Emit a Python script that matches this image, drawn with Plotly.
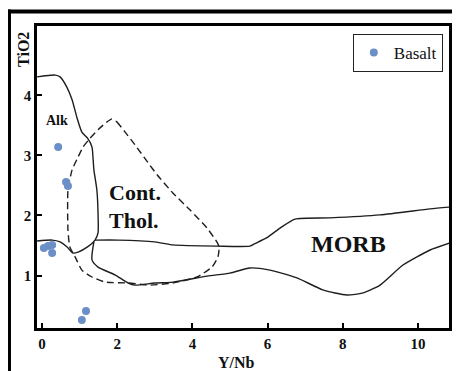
import plotly.graph_objects as go

# ---- data (Y/Nb, TiO2) ----
basalt_x = [0.43, 0.64, 0.69, 0.05, 0.16, 0.27, 0.27, 1.17, 1.06]
basalt_y = [3.14, 2.56, 2.49, 1.46, 1.49, 1.51, 1.375, 0.41, 0.26]

# Alk field boundary (upper + lower, continuous)
alk_x = [-0.13, 0.35, 0.48, 0.66, 0.80, 0.93, 1.06, 1.22, 1.33, 1.36, 1.38, 1.46, 1.49, 1.49, 1.41,
         1.22, 0.96, 0.82, 0.66, 0.48, 0.27, -0.13]
alk_y = [4.31, 4.34, 4.31, 4.14, 3.93, 3.63, 3.39, 3.28, 3.14, 2.93, 2.76, 2.42, 2.04, 1.71, 1.59,
         1.48, 1.39, 1.375, 1.48, 1.56, 1.59, 1.575]

# upper MORB / Cont. Thol. boundary
upper_x = [1.41, 2.02, 3.00, 3.48, 4.65, 5.53, 5.66, 5.98, 6.33, 6.73, 7.66, 8.99, 10.32, 10.83]
upper_y = [1.59, 1.59, 1.56, 1.51, 1.49, 1.49, 1.53, 1.63, 1.79, 1.94, 1.96, 2.01, 2.11, 2.14]

# lower MORB boundary
lower_x = [1.38, 1.33, 1.49, 1.94, 2.29, 2.47, 3.00, 3.48, 4.39, 5.00, 5.53, 6.06, 6.78, 7.47,
           8.11, 8.54, 8.99, 9.60, 10.32, 10.83]
lower_y = [1.56, 1.26, 1.14, 1.01, 0.875, 0.84, 0.875, 0.89, 0.99, 1.04, 1.125, 1.09, 0.96, 0.76,
           0.675, 0.71, 0.84, 1.175, 1.425, 1.54]

# Cont. Thol. field (dashed, closed)
ct_x = [1.86, 1.99, 2.21, 2.47, 2.82, 3.06, 3.48, 3.94, 4.39, 4.65, 4.71, 4.68, 4.52, 4.12, 3.48,
        2.87, 2.29, 1.68, 1.33, 1.06, 0.88, 0.74, 0.69, 0.69, 0.80, 0.96, 1.09, 1.28, 1.49, 1.73, 1.86]
ct_y = [3.61, 3.56, 3.39, 3.18, 2.88, 2.68, 2.375, 2.09, 1.79, 1.56, 1.475, 1.31, 1.14, 0.975, 0.875,
        0.84, 0.875, 0.89, 0.975, 1.09, 1.31, 1.475, 1.76, 2.42, 2.76, 2.975, 3.14, 3.29, 3.43, 3.56, 3.61]

x_ticks = [0, 2, 4, 6, 8, 10]
y_ticks = [1, 2, 3, 4]

SERIF = "Liberation Serif"
LINE = "#1e1e1e"

fig = go.Figure()
for xs, ys in [(alk_x, alk_y), (upper_x, upper_y), (lower_x, lower_y)]:
    fig.add_trace(go.Scatter(x=xs, y=ys, mode="lines", showlegend=False, hoverinfo="skip",
                             line=dict(color=LINE, width=1.4, shape="spline", smoothing=0.6)))
fig.add_trace(go.Scatter(x=ct_x, y=ct_y, mode="lines", showlegend=False, hoverinfo="skip",
                         line=dict(color=LINE, width=1.4, dash="7px,4px", shape="spline", smoothing=0.5)))
fig.add_trace(go.Scatter(x=basalt_x, y=basalt_y, mode="markers", name="Basalt",
                         marker=dict(color="#6b8fc7", size=8)))

def ann(text, x, y, size, bold=True, xanchor="center", **kw):
    fig.add_annotation(text=f"<b>{text}</b>" if bold else text, x=x, y=y, showarrow=False,
                       xanchor=xanchor, yanchor="middle",
                       font=dict(family=SERIF, size=size, color="#111111"), **kw)

ann("Alk", 0.40, 3.58, 14)
ann("Cont.", 1.72, 2.375, 22, xanchor="left")
ann("Thol.", 1.74, 1.91, 22, xanchor="left")
ann("MORB", 8.16, 1.525, 24)
ann("TiO2", -0.0316, 0.924, 16, xref="paper", yref="paper", textangle=-90)
ann("Y/Nb", 0.485, -0.113, 16, xref="paper", yref="paper")

# outer scanned frame (top and left)
fig.add_shape(type="line", xref="paper", yref="paper", x0=-0.08, x1=1.03, y0=1.048, y1=1.048,
              line=dict(color="black", width=4))
fig.add_shape(type="line", xref="paper", yref="paper", x0=-0.068, x1=-0.068, y0=1.055, y1=-0.15,
              line=dict(color="black", width=4))

axis_common = dict(showgrid=False, zeroline=False, showline=True, mirror=True,
                   linecolor="black", linewidth=2.5, ticks="inside", ticklen=5, tickwidth=1.5,
                   tickcolor="black", tickfont=dict(family=SERIF, size=15, color="#111111"),
                   automargin=False)
fig.update_xaxes(range=[-0.133, 10.824], tickvals=x_ticks, ticktext=[f"<b>{v}</b>" for v in x_ticks],
                 **axis_common)
fig.update_yaxes(range=[0.125, 5.158], tickvals=y_ticks, ticktext=[f"<b>{v}</b>" for v in y_ticks],
                 **axis_common)

# page body has an 8px default margin: figure is sized/offset to compensate
fig.update_layout(
    width=452, height=363,
    margin=dict(l=29, r=11, t=18, b=43),
    paper_bgcolor="white", plot_bgcolor="white",
    legend=dict(x=0.985, y=0.9735, xanchor="right", yanchor="top",
                bordercolor="#222222", borderwidth=1, bgcolor="white",
                font=dict(family=SERIF, size=17, color="#111111"), itemwidth=30),
)

fig.write_html("out.html")
